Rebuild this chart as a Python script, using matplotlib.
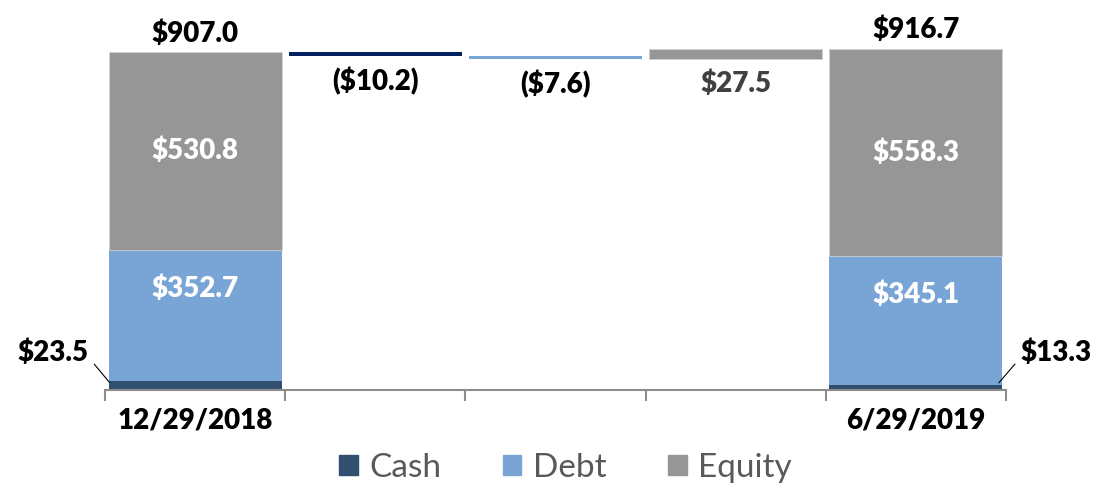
import matplotlib
matplotlib.use("Agg")
import matplotlib.pyplot as plt
from matplotlib.patches import Patch

# data
categories = ['12/29/2018', '', '', '', '6/29/2019']
cash = [23.5, 13.3]
debt = [352.7, 345.1]
equity = [530.8, 558.3]
totals = [907.0, 916.7]
changes = [-10.2, -7.6, 27.5]
change_labels = ['($10.2)', '($7.6)', '$27.5']

c_cash = '#31506f'
c_debt = '#79a4d6'
c_equity = '#969696'
c_change = ['#002060', '#79a4d6', '#969696']
c_change_txt = ['#000000', '#000000', '#404040']

BOLD = 'heavy'


def main():
    plt.rcParams['font.family'] = ['Lato', 'DejaVu Sans']
    fig = plt.figure(figsize=(10.94, 4.84), dpi=100)
    ax = fig.add_axes([0.096, 0.1952, 0.8236, 0.768])

    x = list(range(len(categories)))
    ends = [0, 4]
    w = 0.96

    # stacked start / end bars
    for i, xi in enumerate(ends):
        ax.bar(xi, cash[i], w, color=c_cash, edgecolor='none')
        ax.bar(xi, debt[i], w, bottom=cash[i], color=c_debt, edgecolor='none')
        ax.bar(xi, equity[i], w, bottom=cash[i] + debt[i], color=c_equity,
               edgecolor='#d0d0d0', linewidth=0.6)
        ax.annotate('$%.1f' % totals[i], (xi, cash[i] + debt[i] + equity[i]),
                    xytext=(0, 4), textcoords='offset points', ha='center',
                    va='bottom', fontsize=20, fontweight=BOLD)
        ax.text(xi, cash[i] + debt[i] + equity[i] / 2, '$%.1f' % equity[i],
                ha='center', va='center', color='white', fontsize=20,
                fontweight=BOLD)
        ax.text(xi, cash[i] + debt[i] * 0.7, '$%.1f' % debt[i],
                ha='center', va='center', color='white', fontsize=20,
                fontweight=BOLD)

    # cash leader labels
    ax.annotate('$%.1f' % cash[0], xy=(-0.475, 19),
                xytext=(-0.59, 100), ha='right', va='center', fontsize=20,
                fontweight=BOLD, annotation_clip=False,
                arrowprops=dict(arrowstyle='-', color='black', lw=0.8,
                                relpos=(1.0, 0.3), shrinkA=3, shrinkB=0))
    ax.annotate('$%.1f' % cash[1], xy=(4.46, 18),
                xytext=(4.58, 100), ha='left', va='center', fontsize=20,
                fontweight=BOLD, annotation_clip=False,
                arrowprops=dict(arrowstyle='-', color='black', lw=0.8,
                                relpos=(0.0, 0.3), shrinkA=3, shrinkB=0))

    # floating change bars
    level = totals[0]
    for k, ch in enumerate(changes):
        xi = k + 1
        bottom = level + min(ch, 0)
        ax.bar(xi, abs(ch), w, bottom=bottom, color=c_change[k],
               edgecolor='#d0d0d0' if k == 2 else 'none', linewidth=0.6)
        ax.annotate(change_labels[k], (xi, bottom), xytext=(0, -8),
                    textcoords='offset points', ha='center', va='top',
                    fontsize=20, fontweight=BOLD, color=c_change_txt[k])
        level += ch

    ax.set_xlim(-0.5, 4.5)
    ax.set_ylim(0, 1000)
    ax.set_xticks(x)
    ax.set_xticklabels(categories, fontsize=20, fontweight=BOLD)
    ax.set_xticks([i - 0.5 for i in range(len(categories) + 1)], minor=True)
    ax.tick_params(axis='x', which='major', length=0, pad=13)
    ax.tick_params(axis='x', which='minor', length=8, width=1.5,
                   color='#8c8c8c')
    ax.set_yticks([])
    for s in ['top', 'right', 'left']:
        ax.spines[s].set_visible(False)
    ax.spines['bottom'].set_color('#8c8c8c')
    ax.spines['bottom'].set_linewidth(1.5)

    handles = [Patch(color=c_cash, label='Cash'),
               Patch(color=c_debt, label='Debt'),
               Patch(color=c_equity, label='Equity')]
    leg = fig.legend(handles=handles, loc='center', ncol=3,
                     bbox_to_anchor=(0.517, 0.033), frameon=False,
                     fontsize=24, handlelength=0.55, handleheight=0.55,
                     handletextpad=0.35, columnspacing=1.85)
    for t in leg.get_texts():
        t.set_color('#595959')

    fig.savefig('out.png', dpi=100)


if __name__ == "__main__":
    main()
